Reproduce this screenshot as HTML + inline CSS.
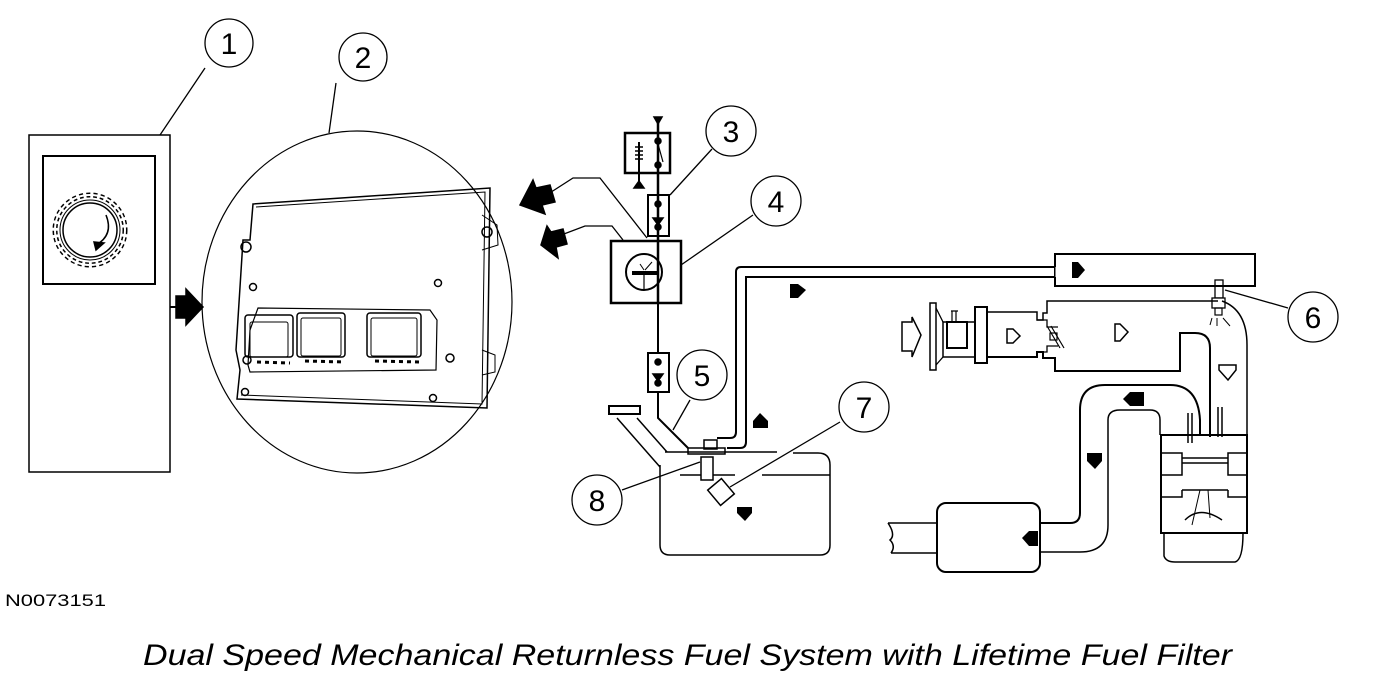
<!DOCTYPE html>
<html><head><meta charset="utf-8"><style>
html,body{margin:0;padding:0;background:#fff;}
svg{display:block;}
text{font-family:"Liberation Sans",sans-serif;}
</style></head><body>
<svg width="1376" height="676" viewBox="0 0 1376 676" xmlns="http://www.w3.org/2000/svg" fill="none" stroke="#000" stroke-width="1.5">
<!-- callouts -->
<g stroke-width="1.3">
<circle cx="229" cy="43" r="24" fill="#fff"/><line x1="205" y1="68" x2="160" y2="135"/>
<circle cx="363" cy="57" r="24" fill="#fff"/><line x1="336" y1="83" x2="329" y2="133"/>
<circle cx="731" cy="131" r="25" fill="#fff"/><line x1="712" y1="149" x2="670" y2="195"/>
<circle cx="776" cy="201" r="25" fill="#fff"/><line x1="753" y1="215" x2="681" y2="265"/>
<circle cx="702" cy="375" r="25" fill="#fff"/><line x1="690" y1="400" x2="673" y2="430"/>
<circle cx="864" cy="407" r="25" fill="#fff"/><line x1="840" y1="422" x2="730" y2="487"/>
<circle cx="597" cy="500" r="25" fill="#fff"/><line x1="622" y1="490" x2="700" y2="462"/>
<circle cx="1313" cy="317" r="25" fill="#fff"/><line x1="1288" y1="308" x2="1225" y2="290"/>
</g>
<g fill="#000" stroke="none" font-size="30">
<text x="229" y="54" text-anchor="middle">1</text>
<text x="363" y="68" text-anchor="middle">2</text>
<text x="731" y="142" text-anchor="middle">3</text>
<text x="776" y="212" text-anchor="middle">4</text>
<text x="702" y="386" text-anchor="middle">5</text>
<text x="1313" y="328" text-anchor="middle">6</text>
<text x="864" y="418" text-anchor="middle">7</text>
<text x="597" y="511" text-anchor="middle">8</text>
</g>
<!-- box 1 -->
<rect x="29" y="135" width="141" height="337"/>
<rect x="43" y="156" width="112" height="128" stroke-width="2"/>
<circle cx="90" cy="230" r="27"/><circle cx="90" cy="230" r="30" stroke-width="1"/>
<circle cx="90" cy="230" r="35" stroke-width="5" stroke-dasharray="4 3"/>
<circle cx="90" cy="230" r="35" stroke="#fff" stroke-width="2"/>
<path d="M106 215 Q114 235 96 245"/><path d="M94 242 L104 243 L96 250 Z" fill="#000"/>
<line x1="170" y1="307" x2="186" y2="307" stroke-width="2"/>
<path d="M176 296 L186 296 L186 289 L203 307 L186 325 L186 318 L176 318 Z" fill="#000"/>
<!-- ECM circle -->
<ellipse cx="357" cy="302" rx="155" ry="171" stroke-width="1.2"/>
<path d="M253 204 L490 188 L487 408 L237 399 L240 370 L236 350 L243 240 L250 240 Z" stroke-width="1.5"/>
<path d="M256 207 L485 192 L482 404 L241 395" stroke-width="1"/>
<path d="M482 215 L497 225 L498 245 L482 250" stroke-width="1"/>
<circle cx="487" cy="232" r="5"/><circle cx="246" cy="247" r="5"/>
<circle cx="438" cy="283" r="3.5"/><circle cx="253" cy="287" r="3.5"/>
<circle cx="247" cy="360" r="4"/><circle cx="450" cy="358" r="4"/>
<circle cx="245" cy="392" r="3.5"/><circle cx="433" cy="398" r="3.5"/>
<path d="M482 350 L495 355 L495 372 L482 375" stroke-width="1"/>
<path d="M248 365 L250 330 L258 308 L430 310 L437 320 L436 370 L250 372 Z" stroke-width="1.2"/>
<rect x="245" y="315" width="48" height="42" rx="3"/>
<rect x="297" y="313" width="48" height="44" rx="3"/>
<rect x="367" y="313" width="54" height="44" rx="3"/>
<rect x="250" y="322" width="38" height="35" rx="2" stroke-width="1"/>
<rect x="301" y="318" width="40" height="38" rx="2" stroke-width="1"/>
<rect x="371" y="318" width="46" height="38" rx="2" stroke-width="1"/>
<path d="M257 362 L290 363 M305 361 L345 362 M375 361 L420 362" stroke-width="3" stroke-dasharray="4 4"/>
<!-- arrows into ECM -->
<path d="M545 196 L573 178 L600 178 L647 238" stroke-width="1.3"/>
<path d="M548 240 L585 226 L612 226 L623 240" stroke-width="1.3"/>
<path d="M520 205 L533 180 L536 188 L550 185 L555 202 L542 205 L545 214 Z" fill="#000"/>
<path d="M541 245 L547 226 L551 232 L563 229 L567 244 L556 247 L558 258 Z" fill="#000"/>
<!-- relay -->
<rect x="625" y="133" width="45" height="40" stroke-width="2.5"/>
<line x1="658" y1="120" x2="658" y2="302" stroke-width="2.5"/>
<path d="M654 117 L662 117 L658 124 Z" fill="#000"/>
<line x1="639" y1="142" x2="639" y2="188" stroke-width="2"/>
<path d="M634 188 L644 188 L639 181 Z" fill="#000"/>
<path d="M635 147 h8 M635 151 h8 M635 155 h8 M635 159 h8" stroke-width="1.5"/>
<circle cx="658" cy="141" r="3" fill="#000"/><circle cx="658" cy="165" r="3" fill="#000"/>
<line x1="658" y1="144" x2="663" y2="162" stroke-width="1.2"/>
<rect x="648" y="195" width="21" height="41" stroke-width="2"/>
<circle cx="658" cy="204" r="3" fill="#000"/><path d="M653 218 L663 218 L658 225 Z" fill="#000"/><circle cx="658" cy="227" r="3" fill="#000"/>
<!-- box 4 -->
<rect x="611" y="241" width="70" height="62" stroke-width="2.5"/>
<circle cx="644" cy="272" r="18" stroke-width="2"/>
<line x1="632" y1="273" x2="657" y2="273" stroke-width="4"/>
<line x1="644" y1="273" x2="644" y2="290" stroke-width="1.2"/>
<line x1="640" y1="264" x2="644" y2="270" stroke-width="1"/><line x1="652" y1="262" x2="645" y2="270" stroke-width="1"/>
<path d="M658 303 L658 418 L688 448" stroke-width="2"/>
<rect x="648" y="353" width="21" height="39" fill="#fff" stroke-width="2"/>
<circle cx="658" cy="362" r="3" fill="#000"/><path d="M653 374 L663 374 L658 381 Z" fill="#000"/><circle cx="658" cy="383" r="3" fill="#000"/>
<!-- fuel line -->
<path d="M717 438 L730 438 Q736 438 736 432 L736 272 Q736 267 741 267 L1057 267" stroke-width="2"/>
<path d="M727 448 L740 448 Q746 448 746 442 L746 277 L1057 277" stroke-width="2"/>
<rect x="704" y="440" width="13" height="9" stroke-width="1.5"/>
<path d="M790 284 L798 284 L806 290 L798 298 L790 298 Z" fill="#000" stroke="none"/>
<path d="M760 413 L768 421 L768 428 L753 428 L753 421 Z" fill="#000" stroke="none"/>
<path d="M737 507 L752 507 L752 513 L745 521 L737 513 Z" fill="#000" stroke="none"/>
<!-- tank -->
<rect x="609" y="406" width="31" height="8" stroke-width="2"/>
<path d="M617 418 L660 467" stroke-width="1.5"/><path d="M637 418 L667 452" stroke-width="1.5"/>
<path d="M660 465 L660 545 Q660 555 670 555 L820 555 Q830 555 830 545 L830 465 Q830 453 818 453 L793 453" stroke-width="1.5"/>
<line x1="665" y1="452" x2="777" y2="452" stroke-width="1.5"/>
<line x1="680" y1="475" x2="735" y2="475" stroke-width="1.5"/><line x1="762" y1="475" x2="830" y2="475" stroke-width="1.5"/>
<rect x="688" y="448" width="37" height="6" stroke-width="1.5"/>
<rect x="701" y="457" width="12" height="23" fill="#fff" stroke-width="1.5"/>
<rect x="712" y="482" width="18" height="20" transform="rotate(-40 721 492)" fill="#fff" stroke-width="1.5"/>
<!-- fuel rail -->
<rect x="1055" y="254" width="200" height="32" fill="#fff" stroke-width="2"/>
<path d="M1057 267 L1057 277" stroke="#fff" stroke-width="3"/>
<path d="M1072 262 L1078 262 L1085 270 L1078 278 L1072 278 Z" fill="#000" stroke="none"/>
<rect x="1215" y="280" width="8" height="18" stroke-width="1.3"/>
<rect x="1212" y="298" width="13" height="10" fill="#fff" stroke-width="1.3"/>
<rect x="1215" y="308" width="7" height="7" stroke-width="1.2"/>
<path d="M1212 318 L1210 325 M1217 318 L1217 326 M1223 318 L1230 326" stroke-width="1"/>
<!-- intake -->
<path d="M902 322 L912 322 L912 317 L921 335 L912 357 L912 351 L902 351 Z" stroke-width="1.5"/>
<rect x="930" y="303" width="6" height="67" stroke-width="1.5"/>
<path d="M936 308 L943 322 M936 365 L943 357" stroke-width="1.3"/>
<rect x="943" y="322" width="32" height="35" stroke-width="1.5"/>
<rect x="947" y="322" width="20" height="26" stroke-width="2"/>
<path d="M952 311 v11 M956 311 v11 M951 311 h7" stroke-width="1.2"/>
<rect x="975" y="307" width="12" height="56" stroke-width="2"/>
<path d="M987 312 L1037 312 L1037 320 L1043 320 L1043 313 L1047 313 L1047 301 L1218 301" stroke-width="1.5"/>
<path d="M987 357 L1037 357 L1037 352 L1043 352 L1043 358 L1055 358 L1055 371 L1180 371 L1180 333 L1195 333 Q1210 333 1210 348 L1210 437" stroke-width="2"/>
<path d="M1037 320 L1047 320 L1047 327 L1058 327 M1037 352 L1047 352 L1047 346 L1058 346" stroke-width="1.3"/>
<path d="M1047 326 L1060 348 M1051 326 L1064 348" stroke-width="1.2"/>
<rect x="1050" y="333" width="7" height="7" stroke-width="1.2"/>
<path d="M1007 329 L1013 329 L1020 336 L1013 343 L1007 343 Z" stroke-width="1.5"/>
<path d="M1115 324 L1120 324 L1128 332 L1120 341 L1115 341 Z" stroke-width="1.5"/>
<path d="M1222 301 Q1247 310 1247 345 L1247 435" stroke-width="1.5"/>
<path d="M1219 365 L1236 365 L1236 370 L1228 380 L1219 370 Z" stroke-width="1.5"/>
<!-- engine -->
<rect x="1161" y="435" width="86" height="98" stroke-width="2"/>
<path d="M1161 453 L1182 453 L1182 475 L1161 475 M1247 453 L1228 453 L1228 475 L1247 475" stroke-width="1.5"/>
<path d="M1182 458 L1228 458 M1182 463 L1228 463 M1182 490 L1228 490" stroke-width="1.5"/>
<path d="M1161 497 L1182 497 L1182 490 M1247 497 L1228 497 L1228 490" stroke-width="1.5"/>
<path d="M1188 413 v30 M1192 413 v30 M1218 407 v30 M1222 407 v30" stroke-width="1.5"/>
<path d="M1185 520 Q1200 505 1222 520" stroke-width="1.5"/>
<path d="M1200 490 L1192 525 M1208 490 L1210 518" stroke-width="1"/>
<path d="M1164 533 L1164 556 Q1166 562 1175 562 L1235 562 Q1243 560 1243 533" stroke-width="1.5"/>
<!-- exhaust -->
<path d="M1040 523 L1070 523 Q1080 523 1080 513 L1080 410 Q1080 385 1105 385 L1170 385 Q1198 385 1200 420 L1200 435" stroke-width="2"/>
<path d="M1040 552 L1080 552 Q1108 552 1108 525 L1108 420 Q1108 410 1120 410 L1150 410 Q1160 410 1160 420 L1160 435" stroke-width="1.5"/>
<rect x="937" y="503" width="103" height="69" rx="9" stroke-width="2"/>
<path d="M888 523 L937 523 M891 553 L937 553 M888 523 Q896 535 890 540 Q896 546 891 553" stroke-width="1.5"/>
<path d="M1130 392 L1144 392 L1144 406 L1130 406 L1123 399 Z" fill="#000" stroke="none"/>
<path d="M1087 453 L1102 453 L1102 461 L1095 469 L1087 461 Z" fill="#000" stroke="none"/>
<path d="M1029 531 L1038 531 L1038 546 L1029 546 L1022 538 Z" fill="#000" stroke="none"/>
<!-- text -->
<text x="5" y="606" font-size="17" fill="#000" stroke="none" textLength="101" lengthAdjust="spacingAndGlyphs">N0073151</text>
<text x="143" y="665" font-size="30" font-style="italic" fill="#000" stroke="none" textLength="1089" lengthAdjust="spacingAndGlyphs">Dual Speed Mechanical Returnless Fuel System with Lifetime Fuel Filter</text>
</svg>
</body></html>
